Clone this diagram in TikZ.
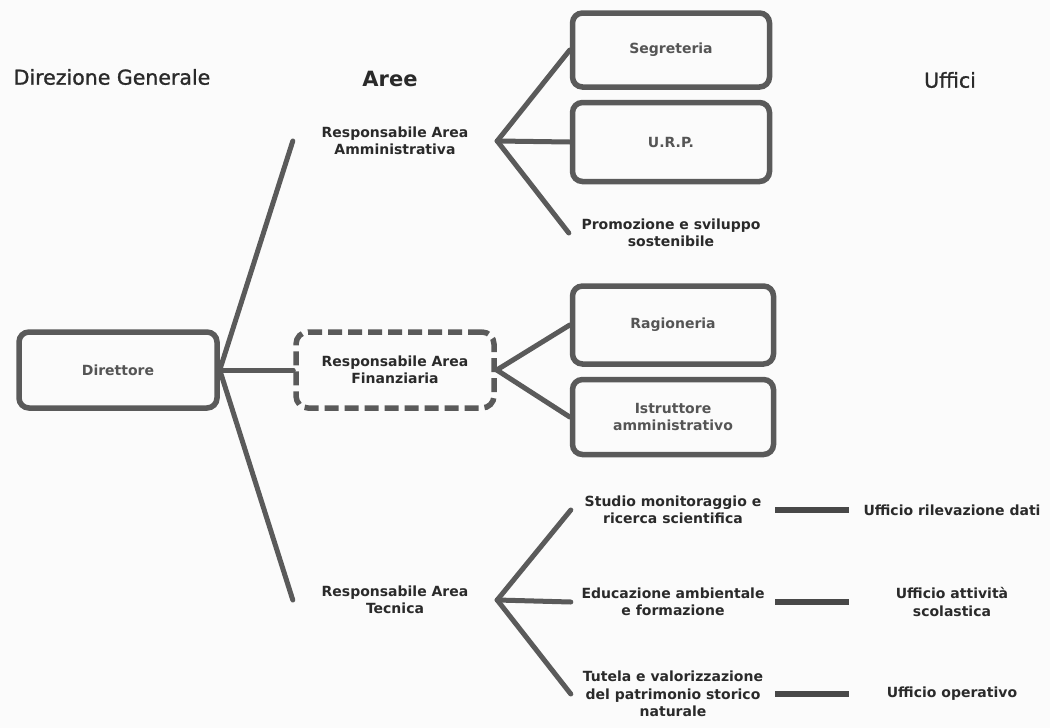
\documentclass[tikz,border=0pt]{standalone}
\usepackage{fontspec}
\setmainfont{DejaVu Sans}
\newfontfamily\hdrfont[FakeBold=1.2]{DejaVu Sans}
\definecolor{ln}{HTML}{5A5A5A}
\definecolor{tx}{HTML}{2A2A2A}
\definecolor{bx}{HTML}{555555}
\definecolor{bg}{HTML}{FBFBFB}
\begin{document}
\begin{tikzpicture}[x=1pt,y=-1pt,
  hdr/.style={font=\hdrfont\fontsize{20.5}{25}\selectfont, text=tx, inner sep=0pt},
  hdrb/.style={font=\fontsize{21}{25}\selectfont\bfseries, text=tx, inner sep=0pt},
  lbl/.style={font=\fontsize{14}{17.5}\selectfont\bfseries, text=tx, align=center, inner sep=0pt},
  boxed/.style={draw=ln, line width=5.5pt, rounded corners=10pt, fill=bg, inner sep=0pt,
     align=center, font=\fontsize{14}{17.5}\selectfont\bfseries, text=bx},
  ghost/.style={lbl, minimum width=204pt, minimum height=80pt},
  conn/.style={draw=ln, line width=5pt, line cap=round, line join=round},
  hconn/.style={draw=ln!80!black, line width=6pt}
]
\fill[bg] (0,0) rectangle (1050,728);
\useasboundingbox (0,0) rectangle (1050,728);

% headers
\node[hdr] (h1) at (112,77) {Direzione Generale};
\node[hdrb] (h2) at (390,79) {Aree};
\node[hdr] (h3) at (950,80) {Uffici};

% direttore
\node[boxed, minimum width=198pt, minimum height=76pt] (dir) at (118,370) {Direttore};

% areas
\node[ghost] (amm) at (395,141) {Responsabile Area\\Amministrativa};
\node[boxed, dash pattern=on 14pt off 6pt, rounded corners=12pt, text=tx,
      minimum width=198pt, minimum height=76pt] (fin) at (395,370) {Responsabile Area\\Finanziaria};
\node[ghost] (tec) at (395,600) {Responsabile Area\\Tecnica};

% offices of areas
\node[boxed, minimum width=197pt, minimum height=74pt] (seg) at (671,50) {Segreteria};
\node[boxed, minimum width=197pt, minimum height=79pt] (urp) at (671,142) {U.R.P.};
\node[ghost] (pro) at (671,233) {Promozione e sviluppo\\sostenibile};
\node[boxed, minimum width=201pt, minimum height=78pt] (rag) at (673,325) {Ragioneria};
\node[boxed, minimum width=201pt, minimum height=75pt] (ist) at (673,417) {Istruttore\\amministrativo};
\node[ghost] (stu) at (673,510) {Studio monitoraggio e\\ricerca scientifica};
\node[ghost] (edu) at (673,602) {Educazione ambientale\\e formazione};
\node[ghost] (tut) at (673,694) {Tutela e valorizzazione\\del patrimonio storico\\naturale};

% uffici
\node[lbl, minimum width=206pt] (u1) at (952,510) {Ufficio rilevazione dati};
\node[lbl, minimum width=206pt] (u2) at (952,602) {Ufficio attività\\scolastica};
\node[lbl, minimum width=206pt] (u3) at (952,694) {Ufficio operativo};

% connectors
\draw[conn] (dir.east) -- (amm.west);
\draw[conn] (dir.east) -- (fin.west);
\draw[conn] (dir.east) -- (tec.west);

\draw[conn] (amm.east) -- (seg.west);
\draw[conn] (amm.east) -- (urp.west);
\draw[conn] (amm.east) -- (pro.west);

\draw[conn] (fin.east) -- (rag.west);
\draw[conn] (fin.east) -- (ist.west);

\draw[conn] (tec.east) -- (stu.west);
\draw[conn] (tec.east) -- (edu.west);
\draw[conn] (tec.east) -- (tut.west);

\draw[hconn] (stu.east) -- (u1.west);
\draw[hconn] (edu.east) -- (u2.west);
\draw[hconn] (tut.east) -- (u3.west);
\end{tikzpicture}
\end{document}
